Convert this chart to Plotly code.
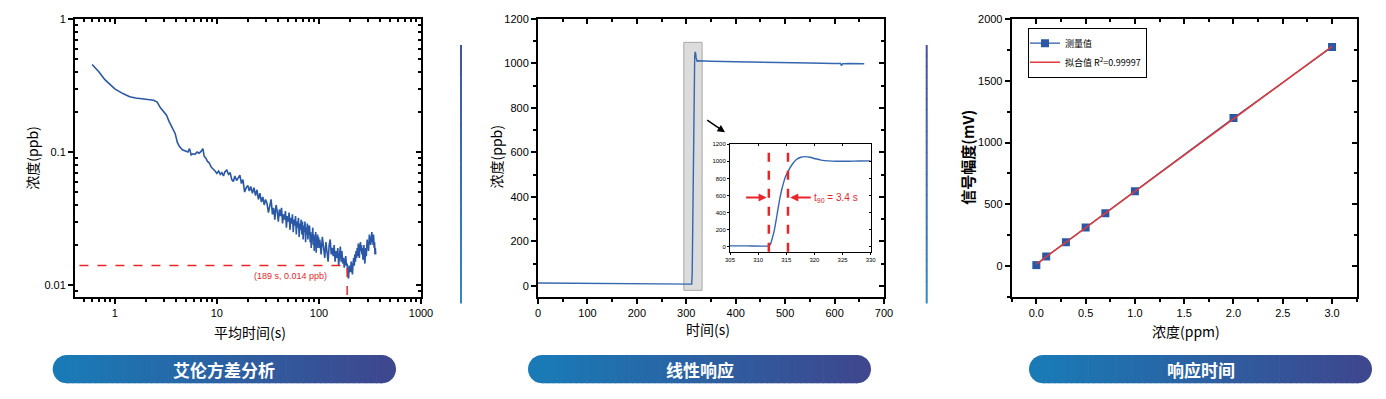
import math
import numpy as np
import plotly.graph_objects as go

# page body has an 8px margin: figure is placed at (8, 8)
OFF = 8
FW, FH = 1378, 391

# ---------------- data ----------------
# Panel 1: Allan deviation
tau_s = [0.6, 0.7, 0.8, 0.9, 1.0, 1.2, 1.4, 1.6, 1.9, 2.2, 2.4, 2.6, 2.8, 3.0, 3.2, 3.4, 3.6, 3.9, 4.1, 4.3, 4.6,
         5.0, 5.2, 5.4, 5.6, 5.8, 6.1, 6.4, 6.7, 7.0, 7.3, 7.5, 7.8, 8.1, 8.4, 8.8, 9.2, 9.6, 10.0,
         10.4, 10.8, 11.2, 11.6, 12.0, 12.5, 13.0, 13.5, 14.0, 14.5, 15.0, 15.6, 16.2, 16.8, 17.4, 18.0, 18.7, 19.4,
         20.1, 20.8, 21.5, 22.3, 23.1, 23.9, 24.7, 25.5, 26.4, 27.3, 28.2, 29.1, 30.0,
         31, 32, 33, 34, 35, 36, 37, 38, 39, 40, 41, 42, 43, 44, 45, 46, 47, 48, 49, 50,
         51, 52, 53, 54, 55, 56, 57, 58, 59, 60, 61, 62, 63, 64, 65, 66, 67, 68, 69, 70,
         71, 72, 73, 74, 75, 76, 77, 78, 79, 80, 81, 82, 83, 84, 85, 86, 87, 88, 89, 90,
         91, 92, 93, 94, 95, 96, 97, 98, 99, 100,
         102, 105, 108, 111, 114, 117, 120, 123, 126, 129, 132, 135, 138, 141, 144, 147, 150, 153, 156, 159,
         162, 165, 168, 171, 174, 177, 180, 183, 186, 189, 192, 195, 198, 201, 204, 207, 210, 213, 216, 219,
         222, 225, 228, 231, 234, 237, 240, 243, 246, 249, 252, 255, 258, 261, 264, 267, 270, 273, 276, 279,
         282, 285, 288, 291, 294, 297, 300, 303, 306, 309, 312, 315, 318, 321, 324, 327, 330, 333, 336, 339,
         342, 345, 348, 351, 354, 357, 360]
allan_ppb = [0.455, 0.40, 0.35, 0.32, 0.298, 0.275, 0.26, 0.255, 0.249, 0.247, 0.245, 0.237, 0.215, 0.20, 0.19, 0.17,
             0.155, 0.138, 0.118, 0.110, 0.104,
             0.102, 0.100, 0.106, 0.095, 0.097, 0.096, 0.100, 0.098, 0.101, 0.106, 0.093, 0.090, 0.085, 0.083, 0.077,
             0.075, 0.072, 0.069,
             0.072, 0.068, 0.070, 0.066, 0.071, 0.073, 0.068, 0.070, 0.062, 0.060, 0.066, 0.061, 0.064, 0.067, 0.058,
             0.062, 0.050, 0.054, 0.056, 0.051, 0.055, 0.049, 0.054, 0.047, 0.052, 0.044, 0.049, 0.042, 0.046, 0.040, 0.044,
             0.041, 0.035, 0.039, 0.044, 0.034, 0.038, 0.031, 0.040, 0.036, 0.030,
             0.037, 0.033, 0.038, 0.029, 0.034, 0.031, 0.036, 0.027, 0.033, 0.030,
             0.035, 0.026, 0.032, 0.029, 0.034, 0.025, 0.031, 0.028, 0.033, 0.024,
             0.030, 0.027, 0.032, 0.023, 0.029, 0.026, 0.031, 0.024, 0.030, 0.022,
             0.028, 0.025, 0.030, 0.021, 0.027, 0.024, 0.029, 0.022, 0.026, 0.028,
             0.0275, 0.021, 0.025, 0.019, 0.024, 0.022, 0.027, 0.020, 0.024, 0.018,
             0.023, 0.021, 0.025, 0.0175, 0.022, 0.019, 0.024, 0.020, 0.023, 0.019,
             0.022, 0.017, 0.023, 0.019, 0.016, 0.021, 0.018, 0.015, 0.020, 0.022,
             0.017, 0.019, 0.0165, 0.020, 0.015, 0.018, 0.016, 0.019, 0.014, 0.017,
             0.0195, 0.015, 0.018, 0.0145, 0.016, 0.0135, 0.015, 0.0165, 0.014, 0.0145,
             0.0118, 0.0112, 0.014, 0.013, 0.0125, 0.015, 0.0135, 0.012, 0.0145, 0.016,
             0.014, 0.017, 0.015, 0.018, 0.016, 0.019, 0.0165, 0.0205, 0.018, 0.016,
             0.0195, 0.021, 0.018, 0.020, 0.017, 0.019, 0.0155, 0.018, 0.020, 0.016,
             0.0145, 0.017, 0.019, 0.0165, 0.020, 0.022, 0.019, 0.021, 0.018, 0.022,
             0.024, 0.021, 0.023, 0.020, 0.024, 0.022, 0.025, 0.021, 0.023, 0.020,
             0.024, 0.022, 0.019, 0.021, 0.017, 0.019, 0.017]
min_tau = 189
min_dev = 0.014

# Panel 2: step response
t_main = [0, 50, 100, 150, 200, 250, 300, 311, 312, 313, 314, 315, 316, 317, 318, 319, 320, 322, 325, 330,
          350, 400, 450, 500, 550, 600, 612, 614, 616, 630, 660]
c_main = [13, 12, 11, 10, 9, 9, 8, 8, 60, 234, 620, 850, 960, 1030, 1052, 1045, 1025, 1010, 1012, 1011,
          1010, 1008, 1005, 1003, 1002, 1000, 1000, 990, 999, 1000, 999]
t_zoom = [305, 308, 311.9, 312.2, 312.5, 312.8, 313.0, 313.3, 313.6, 313.9, 314.2, 314.5, 314.8, 315.3, 316.0,
          316.8, 317.6, 318.3, 319.2, 320.2, 321.2, 322.5, 324, 326, 328, 330]
c_zoom = [8, 8, 9, 30, 95, 170, 234, 350, 469, 580, 670, 745, 810, 880, 960,
          1022, 1048, 1055, 1048, 1030, 1015, 1006, 1002, 1002, 1004, 1006]
t_start, t_90 = 311.9, 315.3
box_t = [295, 332]
box_c = [-20, 1095]

# Panel 3: linearity
conc_ppm = [0, 0.1, 0.3, 0.5, 0.7, 1.0, 2.0, 3.0]
signal_mv = [8, 78, 194, 312, 428, 605, 1198, 1774]

banner_titles = ["艾伦方差分析", "线性响应", "响应时间"]


# ---------------- helpers (screen pixel -> paper) ----------------
def px(x):
    return (x - OFF) / FW


def py(y):
    return 1 - (y - OFF) / FH


CJK = "Noto Sans CJK SC"
NUM = "Liberation Sans, Arial"
BLUE = "#2a58a6"
RED = "#e8262a"

fig = go.Figure()

# Panel 1
fig.add_trace(go.Scatter(x=tau_s, y=allan_ppb, mode="lines", line=dict(color=BLUE, width=1.6),
                         xaxis="x", yaxis="y", showlegend=False))
fig.add_trace(go.Scatter(x=[0.3, min_tau, min_tau], y=[min_dev, min_dev, 0.005], mode="lines",
                         line=dict(color=RED, width=1.5, dash="dash"), xaxis="x", yaxis="y", showlegend=False))
# Panel 2
fig.add_trace(go.Scatter(x=t_main, y=c_main, mode="lines", line=dict(color="#3566b0", width=1.4),
                         xaxis="x2", yaxis="y2", showlegend=False))
fig.add_trace(go.Scatter(x=t_zoom, y=c_zoom, mode="lines",
                         line=dict(color="#3566b0", width=1.4, shape="spline", smoothing=0.6),
                         xaxis="x4", yaxis="y4", showlegend=False))
# Panel 3
fit = np.polyfit(conc_ppm, signal_mv, 1)
fit_x = [conc_ppm[0], conc_ppm[-1]]
fit_y = [float(np.polyval(fit, v)) for v in fit_x]
fig.add_trace(go.Scatter(x=conc_ppm, y=signal_mv, mode="lines+markers", name="测量值",
                         line=dict(color=BLUE, width=1.2), marker=dict(symbol="square", size=8, color=BLUE),
                         xaxis="x3", yaxis="y3"))
fig.add_trace(go.Scatter(x=fit_x, y=fit_y, mode="lines", name="拟合值 R<sup>2</sup>=0.99997",
                         line=dict(color="#e03a3a", width=1.5), xaxis="x3", yaxis="y3"))
# empty traces to activate mirror axes
for k in (5, 6, 7, 8):
    fig.add_trace(go.Scatter(x=[], y=[], xaxis=f"x{k}", yaxis=f"y{k}", showlegend=False, hoverinfo="skip"))

Y_DOM = [py(297), py(19)]
dom1 = [px(75), px(421)]
dom2 = [px(538), px(884)]
dom3 = [px(1011.7), px(1356.7)]
domi_x = [px(730), px(870.7)]
domi_y = [py(251.7), py(144.3)]


def base(**kw):
    d = dict(showline=True, linecolor="black", linewidth=2, ticks="outside", ticklen=5, tickwidth=1.5,
             tickcolor="black", showgrid=False, zeroline=False,
             tickfont=dict(family=NUM, size=11, color="black"))
    d.update(kw)
    return d


def mirror(over, side, anchor, **kw):
    d = dict(overlaying=over, side=side, anchor=anchor, showline=True, linecolor="black", linewidth=2,
             ticks="inside", ticklen=5, tickwidth=1.5, tickcolor="black", showticklabels=False,
             showgrid=False, zeroline=False)
    d.update(kw)
    return d


minor_log_x = [m * 10 ** e for e in (-1, 0, 1, 2) for m in range(2, 10)]
minor_log_y = [m * 10 ** e for e in (-3, -2, -1) for m in range(2, 10)]
lx = dict(type="log", range=[-0.39, 3], tickvals=[1, 10, 100, 1000])
ly = dict(type="log", range=[-2.09, 0], tickvals=[0.01, 0.1, 1])

layout = dict(
    width=FW, height=FH, margin=dict(l=0, r=0, t=0, b=0, autoexpand=False),
    paper_bgcolor="white", plot_bgcolor="white", hovermode=False,
    font=dict(family=CJK, color="black"),
    xaxis=base(domain=dom1, anchor="y", ticktext=["1", "10", "100", "1000"],
               minor=dict(tickmode="array", tickvals=minor_log_x, ticks="outside", ticklen=3, tickcolor="black"), **lx),
    yaxis=base(domain=Y_DOM, anchor="x", ticktext=["0.01", "0.1", "1"],
               minor=dict(tickmode="array", tickvals=minor_log_y, ticks="inside", ticklen=3, tickcolor="black"), **ly),
    xaxis5=mirror("x", "top", "y", minor=dict(tickmode="array", tickvals=minor_log_x, ticks="inside", ticklen=3,
                                              tickcolor="black"), **lx),
    yaxis5=mirror("y", "right", "x", minor=dict(tickmode="array", tickvals=minor_log_y, ticks="inside", ticklen=3,
                                                tickcolor="black"), **ly),

    xaxis2=base(domain=dom2, anchor="y2", range=[0, 700], dtick=100, tick0=0,
                minor=dict(dtick=50, ticks="outside", ticklen=3, tickcolor="black")),
    yaxis2=base(domain=Y_DOM, anchor="x2", range=[-50, 1200], dtick=200, tick0=0,
                minor=dict(dtick=100, ticks="outside", ticklen=3, tickcolor="black")),
    xaxis6=mirror("x2", "top", "y2", range=[0, 700], dtick=100, tick0=0,
                  minor=dict(dtick=50, ticks="inside", ticklen=3, tickcolor="black")),
    yaxis6=mirror("y2", "right", "x2", range=[-50, 1200], dtick=200, tick0=0,
                  minor=dict(dtick=100, ticks="inside", ticklen=3, tickcolor="black")),

    xaxis3=base(domain=dom3, anchor="y3", range=[-0.25, 3.25], dtick=0.5, tick0=0, tickformat=".1f",
                minor=dict(dtick=0.25, tick0=0, ticks="outside", ticklen=3, tickcolor="black")),
    yaxis3=base(domain=Y_DOM, anchor="x3", range=[-250, 2000], dtick=500, tick0=0,
                minor=dict(dtick=250, tick0=0, ticks="outside", ticklen=3, tickcolor="black")),
    xaxis7=mirror("x3", "top", "y3", range=[-0.25, 3.25], dtick=0.5, tick0=0,
                  minor=dict(dtick=0.25, tick0=0, ticks="inside", ticklen=3, tickcolor="black")),
    yaxis7=mirror("y3", "right", "x3", range=[-250, 2000], dtick=500, tick0=0,
                  minor=dict(dtick=250, tick0=0, ticks="inside", ticklen=3, tickcolor="black")),

    xaxis4=base(domain=domi_x, anchor="y4", range=[305, 330], dtick=5, linewidth=1, ticklen=2, tickwidth=1,
                tickfont=dict(family=NUM, size=6, color="black")),
    yaxis4=base(domain=domi_y, anchor="x4", range=[-60, 1200], dtick=200, tick0=0, linewidth=1, ticklen=2,
                tickwidth=1, tickfont=dict(family=NUM, size=6, color="black")),
    xaxis8=mirror("x4", "top", "y4", range=[305, 330], dtick=5, linewidth=1, ticklen=2, tickwidth=1),
    yaxis8=mirror("y4", "right", "x4", range=[-60, 1200], dtick=200, tick0=0, linewidth=1, ticklen=2, tickwidth=1),

    legend=dict(x=px(1028), y=py(27.7), xanchor="left", yanchor="top", bordercolor="black", borderwidth=1,
                bgcolor="white", font=dict(family=CJK, size=9, color="black"), tracegroupgap=0,
                itemwidth=30, indentation=-4),
)
fig.update_layout(**layout)

shapes = []
# grey highlight box in panel 2
shapes.append(dict(type="rect", xref="x2", yref="y2", x0=box_t[0], x1=box_t[1], y0=box_c[0], y1=box_c[1],
                   fillcolor="#dcdcdc", line=dict(color="#a8a8a8", width=1), layer="below"))
# t90 dashed lines in inset
for tv in (t_start, t_90):
    shapes.append(dict(type="line", xref="x4", yref="y4 domain", x0=tv, x1=tv, y0=0, y1=1,
                       line=dict(color=RED, width=2.5, dash="dash")))


def lerp(c1, c2, t):
    return "rgb(%d,%d,%d)" % tuple(round(a + (b - a) * t) for a, b in zip(c1, c2))


# separators with vertical gradient
for sx in (461, 926.7):
    n = 24
    y0, y1 = 45, 303
    for i in range(n):
        a = y0 + (y1 - y0) * i / n
        b = y0 + (y1 - y0) * (i + 1) / n + 0.5
        shapes.append(dict(type="line", xref="paper", yref="paper", x0=px(sx), x1=px(sx), y0=py(a), y1=py(b),
                           line=dict(color=lerp((66, 82, 160), (48, 136, 198), (i + 0.5) / n), width=2)))

# gradient pill banners
C_L, C_R = (26, 122, 182), (61, 72, 143)


def pill(x0, x1, y0, y1):
    r = (y1 - y0) / 2
    yc = (y0 + y1) / 2
    out = []
    cl = x0 + r
    pts = [(cl + r * math.cos(math.radians(a)), yc + r * math.sin(math.radians(a))) for a in range(90, 271, 10)]
    path = "M " + " L ".join(f"{px(x):.5f},{py(y):.5f}" for x, y in pts) + \
        f" L {px(cl + 1):.5f},{py(y0):.5f} L {px(cl + 1):.5f},{py(y1):.5f} Z"
    out.append(dict(type="path", xref="paper", yref="paper", path=path, fillcolor=lerp(C_L, C_R, 0),
                    line=dict(width=0)))
    cr = x1 - r
    pts = [(cr + r * math.cos(math.radians(a)), yc + r * math.sin(math.radians(a))) for a in range(-90, 91, 10)]
    path = "M " + " L ".join(f"{px(x):.5f},{py(y):.5f}" for x, y in pts) + \
        f" L {px(cr - 1):.5f},{py(y1):.5f} L {px(cr - 1):.5f},{py(y0):.5f} Z"
    out.append(dict(type="path", xref="paper", yref="paper", path=path, fillcolor=lerp(C_L, C_R, 1),
                    line=dict(width=0)))
    n = 56
    for i in range(n):
        a = cl + (cr - cl) * i / n
        b = cl + (cr - cl) * (i + 1) / n + 0.7
        out.append(dict(type="rect", xref="paper", yref="paper", x0=px(a), x1=px(b), y0=py(y1), y1=py(y0),
                        fillcolor=lerp(C_L, C_R, (i + 0.5) / n), line=dict(width=0)))
    return out


banners = [(52.7, 396), (528, 871), (1029, 1372)]
for (bx0, bx1) in banners:
    shapes += pill(bx0, bx1, 355, 383.3)

fig.update_layout(shapes=shapes)

ann = []


def label(x, y, text, size=14, angle=0, color="black", family=CJK, **kw):
    d = dict(x=px(x), y=py(y), xref="paper", yref="paper", text=text, showarrow=False,
             xanchor="center", yanchor="middle", textangle=angle,
             font=dict(family=family, size=size, color=color))
    d["font"].update(kw.pop("font_extra", {}))
    d.update(kw)
    return d


# axis titles
ann.append(label(250, 331.7, "平均时间(s)"))
ann.append(label(31.7, 158, "浓度(ppb)", angle=-90))
ann.append(label(708, 329, "时间(s)"))
ann.append(label(495, 157.5, "浓度(ppb)", angle=-90))
ann.append(label(1185.5, 331, "浓度(ppm)"))
ann.append(label(966.7, 157, "<b>信号幅度(mV)</b>", size=15, angle=-90))
# minimum label (log axes -> log10 coords)
ann.append(dict(x=math.log10(52.9), y=math.log10(0.0117), xref="x", yref="y",
                xanchor="center", yanchor="middle",
                text=f"({min_tau} s, {min_dev} ppb)", showarrow=False,
                font=dict(family=NUM, size=9, color=RED)))
# zoom arrow
ann.append(dict(x=px(725), y=py(132.3), xref="paper", yref="paper", text="", showarrow=True,
                ax=-19.3, ay=-13.3, arrowhead=2, arrowsize=1, arrowwidth=1.5, arrowcolor="black"))
# t90 arrows
ann.append(dict(x=311.5, y=575, xref="x4", yref="y4", text="", showarrow=True, ax=-22, ay=0,
                arrowhead=2, arrowsize=0.8, arrowwidth=2, arrowcolor=RED))
ann.append(dict(x=315.7, y=575, xref="x4", yref="y4", text="", showarrow=True, ax=22, ay=0,
                arrowhead=2, arrowsize=0.8, arrowwidth=2, arrowcolor=RED))
ann.append(dict(x=319.6, y=575, xref="x4", yref="y4", xanchor="left", yanchor="middle",
                text=f"t<sub>90</sub> = {t_90 - t_start:.1f} s",
                showarrow=False, font=dict(family=NUM, size=10, color=RED)))
# banner titles
for (bx0, bx1), title in zip(banners, banner_titles):
    ann.append(label((bx0 + bx1) / 2, 369.2, title, size=17, color="white", font_extra=dict(weight=600)))
fig.update_layout(annotations=ann)

fig.write_html("out.html")
